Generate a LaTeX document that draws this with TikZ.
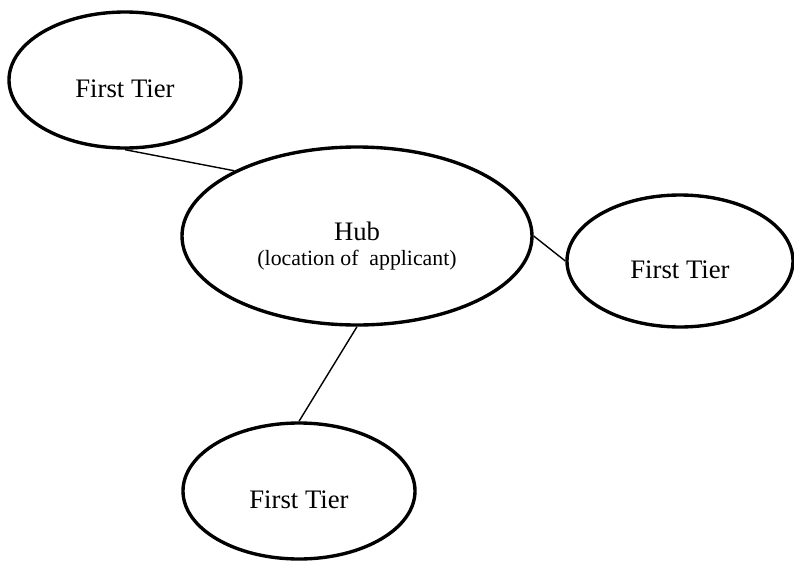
\documentclass[tikz,border=0pt]{standalone}
\usepackage{fontspec}
\setmainfont{Liberation Serif}
\usepackage{tikz}
\usetikzlibrary{shapes}

\begin{document}
\begin{tikzpicture}
\tikzstyle{tier} = [ellipse,draw,line width=2.4pt,inner sep=0pt,minimum width=5.8cm,minimum height=3.4cm,text height=25pt,text depth=0pt,font=\fontsize{19}{22}\selectfont];
\tikzstyle{hubnode} = [ellipse,draw,line width=2.4pt,inner sep=0pt,minimum width=8.75cm,minimum height=4.45cm,align=center,font=\fontsize{19}{22}\selectfont];
\tikzstyle{link} = [line width=1pt];
\useasboundingbox (0,0) rectangle (19.85,-14.05);

\node [hubnode] (hub) at (8.925,-5.9) {\rule{0pt}{27pt}Hub\\[-4pt]{\fontsize{15.5}{17}\selectfont (location of\ \ applicant)}};
\node [tier] (tierA) at (3.125,-2.0) {First Tier};
\node [tier,minimum width=5.65cm,minimum height=3.3cm] (tierB) at (17.0,-6.525) {First Tier};
\node [tier] (tierC) at (7.475,-12.275) {First Tier};

\draw [link] (tierA.south) -- (hub.152);
\draw [link] (hub.east) -- (tierB.west);
\draw [link] (hub.south) -- (tierC.north);
\end{tikzpicture}
\end{document}
